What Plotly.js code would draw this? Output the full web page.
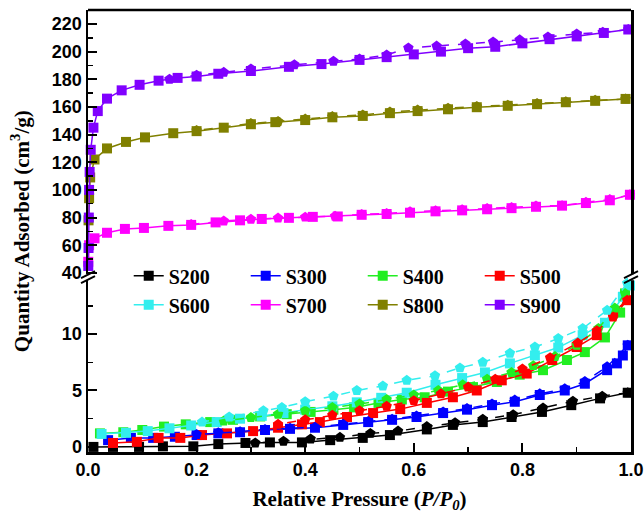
<!DOCTYPE html>
<html><head><meta charset="utf-8">
<script src="https://cdn.plot.ly/plotly-3.0.1.min.js"></script>
<style>body{margin:0;padding:0;background:#fff}#chart{width:644px;height:517px}</style>
</head><body><div id="chart"></div>
<script>
// ---- data (P/P0, quantity adsorbed cm3/g) ----
const names = ['S200','S300','S400','S500','S600','S700','S800','S900'];
const colors = ['#000000','#0000ff','#22ee22','#ff0000','#33eeee','#ff00ff','#808000','#8000ff'];

const s200AdsP = [0.01,0.046,0.094,0.138,0.194,0.24,0.29,0.335,0.394,0.446,0.506,0.556,0.624,0.672,0.727,0.78,0.836,0.89,0.943,0.994];
const s200AdsV = [0.0,0.0,0.0,0.05,0.05,0.25,0.35,0.4,0.4,0.6,0.8,1.05,1.55,1.95,2.2,2.65,3.1,3.7,4.3,4.8];
const s200DesP = [0.994,0.947,0.893,0.838,0.783,0.727,0.676,0.624,0.571,0.52,0.464,0.41,0.36,0.308];
const s200DesV = [4.8,4.5,4.05,3.45,2.85,2.45,2.15,1.8,1.4,1.2,0.85,0.7,0.5,0.35];

const s300AdsP = [0.037,0.079,0.12,0.16,0.2,0.24,0.28,0.326,0.372,0.418,0.47,0.516,0.56,0.605,0.654,0.698,0.744,0.786,0.832,0.878,0.915,0.956,0.974,0.985,0.994];
const s300AdsV = [0.6,0.8,0.8,0.9,1.05,1.2,1.3,1.5,1.6,1.7,1.95,2.2,2.4,2.65,3.0,3.3,3.7,4.0,4.6,5.0,5.6,6.8,7.4,8.1,9.0];
const s300DesP = [0.994,0.956,0.915,0.878,0.832,0.786,0.744,0.698,0.654,0.605,0.56,0.516,0.47,0.418,0.372,0.326,0.28,0.24,0.2];
const s300DesV = [9.0,7.1,5.8,5.15,4.7,4.15,3.8,3.4,3.1,2.75,2.45,2.25,2.0,1.75,1.65,1.55,1.35,1.25,1.1];

const s400AdsP = [0.022,0.065,0.1,0.14,0.18,0.225,0.267,0.317,0.366,0.41,0.452,0.49,0.535,0.578,0.62,0.663,0.709,0.753,0.795,0.838,0.882,0.915,0.952,0.98,0.989];
const s400AdsV = [1.2,1.3,1.5,1.8,2.0,2.2,2.4,2.7,2.9,3.1,3.3,3.5,3.9,4.2,4.4,4.9,5.3,5.75,6.4,6.8,7.7,8.4,9.7,11.9,13.6];
const s400DesP = [0.989,0.97,0.94,0.9,0.86,0.82,0.78,0.735,0.69,0.645,0.6,0.55,0.5,0.45,0.4,0.35,0.3,0.25];
const s400DesV = [13.6,12.3,10.5,9.0,8.0,7.2,6.6,6.0,5.5,5.0,4.6,4.2,3.8,3.5,3.2,2.9,2.6,2.3];

const s500AdsP = [0.046,0.09,0.13,0.17,0.21,0.256,0.304,0.35,0.394,0.427,0.477,0.525,0.575,0.624,0.672,0.716,0.762,0.808,0.855,0.9,0.937,0.967,0.993];
const s500AdsV = [0.35,0.45,0.8,0.8,1.05,1.2,1.4,1.7,2.0,2.2,2.65,3.0,3.35,3.9,4.4,5.0,5.9,6.5,7.7,8.85,9.9,11.9,13.0];
const s500DesP = [0.993,0.967,0.937,0.902,0.851,0.8,0.75,0.7,0.65,0.6,0.55,0.5,0.45,0.4,0.35];
const s500DesV = [13.0,11.5,10.3,9.2,7.9,6.9,6.0,5.3,4.7,4.1,3.6,3.2,2.8,2.4,2.0];

const s600AdsP = [0.025,0.07,0.11,0.15,0.19,0.237,0.28,0.32,0.36,0.4,0.45,0.495,0.54,0.587,0.64,0.689,0.731,0.777,0.823,0.866,0.911,0.952,0.985,0.998];
const s600AdsV = [1.15,1.25,1.4,1.65,1.9,2.2,2.5,2.75,3.0,3.3,3.6,3.95,4.35,4.8,5.5,6.1,6.6,7.4,8.1,8.8,9.9,11.0,13.3,14.3];
const s600DesP = [0.993,0.956,0.911,0.866,0.823,0.777,0.727,0.685,0.639,0.587,0.543,0.495,0.452,0.4,0.357,0.323,0.26,0.21];
const s600DesV = [14.5,12.1,10.5,9.6,8.85,8.3,7.5,7.0,6.3,5.9,5.4,5.0,4.5,4.0,3.5,3.2,2.65,2.2];

const s700AdsP = [0.0005,0.002,0.012,0.035,0.068,0.103,0.148,0.19,0.235,0.28,0.32,0.37,0.414,0.46,0.504,0.55,0.593,0.64,0.689,0.735,0.78,0.825,0.873,0.917,0.961,0.998];
const s700AdsV = [48,60,65,69,71.8,72.5,74,74.7,76.5,78,79,79.8,80.5,80.8,82,82.6,83.5,84.5,85.2,86,86.8,87.8,88.6,90.5,92.5,96.5];
const s700DesP = [0.998,0.961,0.917,0.873,0.825,0.78,0.735,0.689,0.64,0.593,0.55,0.504,0.455,0.4,0.35,0.3,0.25,0.19];
const s700DesV = [96.5,93,91,88.6,88.4,87.2,86.5,85.7,85,84.2,83,82.3,81,80.3,79.6,78.8,77.5,75];

const s800AdsP = [0.001,0.002,0.004,0.012,0.035,0.07,0.105,0.157,0.2,0.25,0.3,0.345,0.4,0.45,0.506,0.556,0.607,0.663,0.716,0.773,0.827,0.88,0.934,0.99];
const s800AdsV = [78,94,109,122,130,134.7,138,141,142.5,145,147.5,149,150.5,152.5,153.5,155.5,157,158.3,159.8,160.8,162,163.4,164.4,165.8];
const s800DesP = [0.99,0.934,0.88,0.827,0.773,0.716,0.663,0.607,0.556,0.506,0.45,0.4,0.35,0.3,0.2];
const s800DesV = [165.8,164.8,163.8,162.5,161.3,160.4,159,157.8,156.3,154.2,153,151.2,149.5,148,143];

const s900AdsP = [0.0005,0.001,0.0015,0.002,0.003,0.005,0.01,0.018,0.035,0.062,0.095,0.13,0.165,0.2,0.24,0.3,0.37,0.43,0.5,0.55,0.6,0.65,0.7,0.75,0.8,0.85,0.9,0.95,0.995];
const s900AdsV = [45,58,80,100,113,129,145,157,166,172,176,179,181,182,184,186,189,191,194,196,198,200,202.5,203.5,206,209,211,213.5,216];
const s900DesP = [0.995,0.948,0.9,0.847,0.795,0.746,0.695,0.642,0.59,0.55,0.5,0.452,0.38,0.3,0.25,0.2,0.15];
const s900DesV = [216,214,212.8,210.6,208.5,207,205.6,204,202.7,197.6,194.7,193,190.5,187.5,185,183,180];

const lowerTicks = [0,5,10];
const upperTicks = [40,60,80,100,120,140,160,180,200,220];
const xTicks = [0,0.2,0.4,0.6,0.8,1.0];
const xTickText = ['0.0','0.2','0.4','0.6','0.8','1.0'];

const ads = [[s200AdsP,s200AdsV],[s300AdsP,s300AdsV],[s400AdsP,s400AdsV],[s500AdsP,s500AdsV],[s600AdsP,s600AdsV],[s700AdsP,s700AdsV],[s800AdsP,s800AdsV],[s900AdsP,s900AdsV]];
const des = [[s200DesP,s200DesV],[s300DesP,s300DesV],[s400DesP,s400DesV],[s500DesP,s500DesV],[s600DesP,s600DesV],[s700DesP,s700DesV],[s800DesP,s800DesV],[s900DesP,s900DesV]];

const traces = [];
names.forEach((n,i)=>{
  traces.push({x:ads[i][0], y:ads[i][1], name:n, type:'scatter', mode:'lines+markers',
    yaxis: i>=5 ? 'y2':'y', cliponaxis:false,
    line:{color:colors[i], width:1.5}, marker:{symbol:'square', size:10, color:colors[i]}});
});
names.forEach((n,i)=>{
  traces.push({x:des[i][0], y:des[i][1], name:n+' des', showlegend:false, type:'scatter', mode:'lines+markers',
    yaxis: i>=5 ? 'y2':'y', cliponaxis:false,
    line:{color:colors[i], width:1.5, dash:'dash'}, marker:{symbol:'pentagon', size:11, color:colors[i]}});
});

const tickFont = {family:'Liberation Sans, Arial, sans-serif', size:18, color:'#000', weight:'bold'};
const serifBold = {family:'Liberation Serif, Times New Roman, serif', size:21, color:'#000', weight:'bold'};

const brkY = 0.3955;
function brk(xa){
  return [
    {type:'rect', xref:'paper', yref:'paper', xsizemode:'pixel', ysizemode:'pixel', xanchor:xa, yanchor:brkY,
     x0:-3, x1:3, y0:-3, y1:3, fillcolor:'#fff', line:{width:0}, layer:'above'},
    {type:'line', xref:'paper', yref:'paper', xsizemode:'pixel', ysizemode:'pixel', xanchor:xa, yanchor:brkY,
     x0:-7, y0:-6, x1:7, y1:1, line:{color:'#000', width:2}, layer:'above'},
    {type:'line', xref:'paper', yref:'paper', xsizemode:'pixel', ysizemode:'pixel', xanchor:xa, yanchor:brkY,
     x0:-7, y0:-1, x1:7, y1:6, line:{color:'#000', width:2}, layer:'above'}
  ];
}

const layout = {
  width:644, height:517,
  margin:{l:88, r:13, t:10, b:65},
  paper_bgcolor:'#fff', plot_bgcolor:'#fff',
  showlegend:true,
  legend:{orientation:'h', x:0.075, y:0.443, xanchor:'left', yanchor:'top',
    font:{family:'Liberation Serif, Times New Roman, serif', size:20, color:'#000', weight:'bold'},
    entrywidth:72, bgcolor:'rgba(0,0,0,0)', tracegroupgap:0},
  xaxis:{range:[0,1], tickvals:xTicks, ticktext:xTickText, showline:true, linewidth:2.5, linecolor:'#000',
    mirror:false, ticks:'inside', ticklen:9, tickwidth:2, tickcolor:'#000', showgrid:false, zeroline:false,
    tickfont:tickFont, minor:{dtick:0.1, ticks:'inside', ticklen:5, tickwidth:1.5, tickcolor:'#000', showgrid:false},
    title:{text:'Relative Pressure (<i>P/P</i><sub><i>0</i></sub>)', font:serifBold, standoff:12},
    anchor:'y', automargin:false},
  yaxis:{domain:[0,0.392], range:[-0.45,14.9], tickvals:lowerTicks, showline:true, linewidth:2.5, linecolor:'#000',
    mirror:true, ticks:'inside', ticklen:9, tickwidth:2, tickcolor:'#000', showgrid:false, zeroline:false,
    tickfont:tickFont, minor:{tickvals:[2.5,7.5,12.5], ticks:'inside', ticklen:5, tickwidth:1.5, tickcolor:'#000', showgrid:false},
    automargin:false},
  yaxis2:{domain:[0.399,1], range:[38,230.1], tickvals:upperTicks, showline:true, linewidth:2.5, linecolor:'#000',
    mirror:true, ticks:'inside', ticklen:9, tickwidth:2, tickcolor:'#000', showgrid:false, zeroline:false,
    tickfont:tickFont, minor:{tickvals:[50,70,90,110,130,150,170,190,210,230], ticks:'inside', ticklen:5, tickwidth:1.5, tickcolor:'#000', showgrid:false},
    anchor:'x', automargin:false},
  shapes:[
    {type:'line', xref:'paper', yref:'paper', x0:0, x1:1, y0:1, y1:1, line:{color:'#000', width:2.5}, layer:'above'}
  ].concat(brk(0), brk(1)),
  annotations:[
    {text:'Quantity Adsorbed (cm<sup>3</sup>/g)', xref:'paper', yref:'paper', x:-0.125, y:0.5,
     xanchor:'center', yanchor:'middle', textangle:-90, showarrow:false, font:serifBold}
  ]
};

Plotly.newPlot('chart', traces, layout, {displayModeBar:false, staticPlot:true});
</script>
</body></html>
